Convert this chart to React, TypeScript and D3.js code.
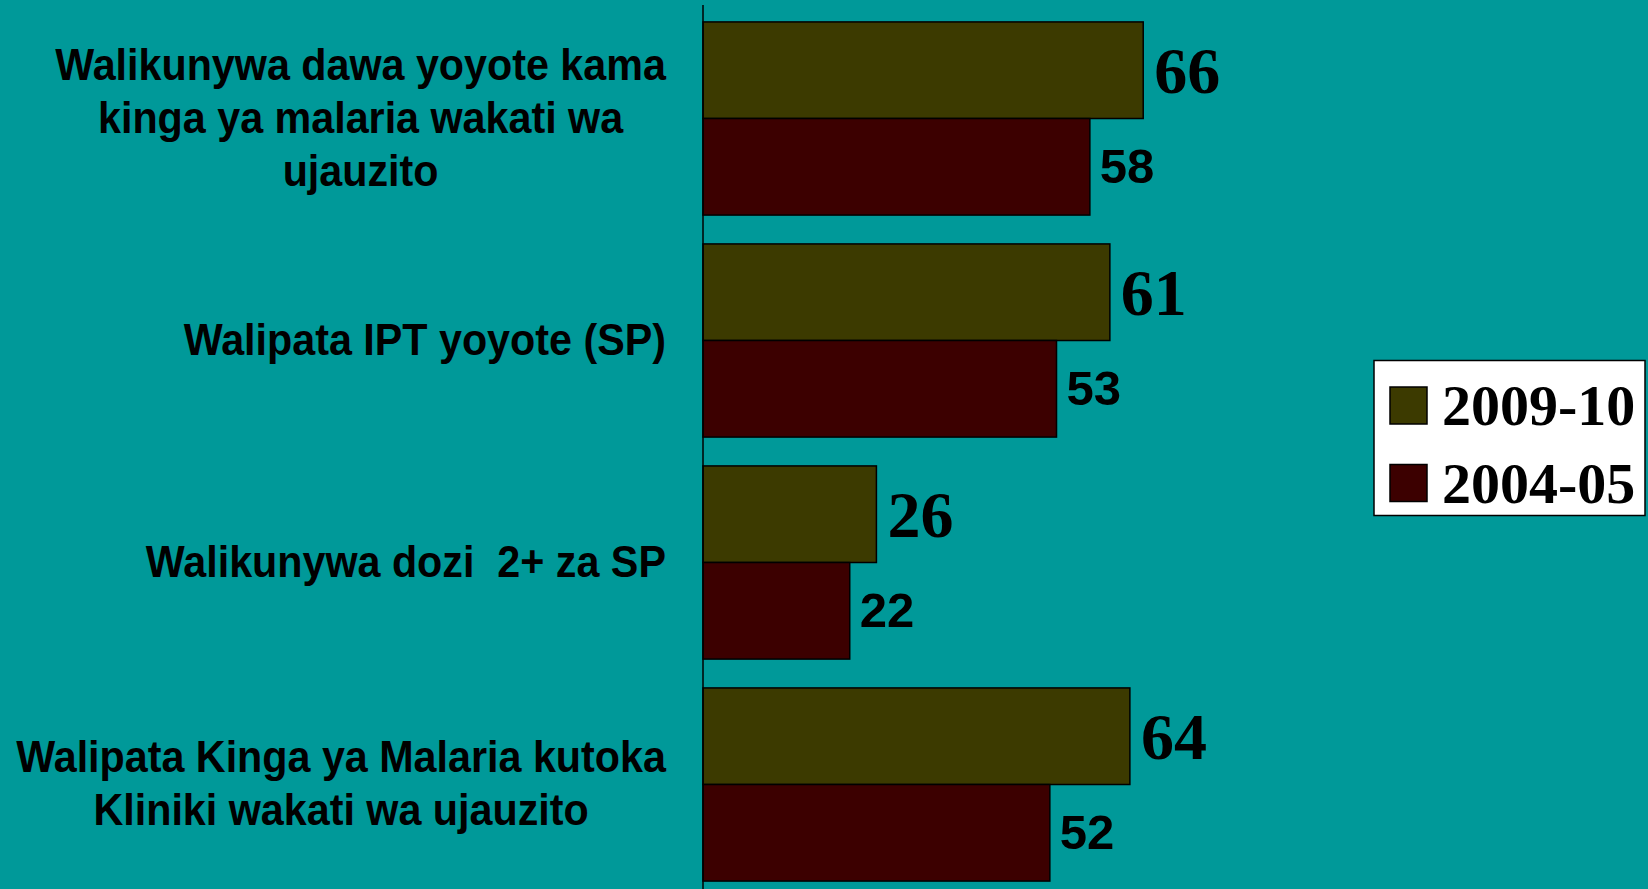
import React, { useEffect, useRef } from "react";
import * as d3 from "d3";

const categories: string[][] = [
  ["Walikunywa dawa yoyote kama", "kinga ya malaria wakati wa", "ujauzito"],
  ["Walipata IPT yoyote (SP)"],
  ["Walikunywa dozi  2+ za SP"],
  ["Walipata Kinga ya Malaria kutoka", "Kliniki wakati wa ujauzito"],
];
const seriesNames = ["2009-10", "2004-05"];
const values2009 = [66, 61, 26, 64];
const values2004 = [58, 53, 22, 52];
const seriesColors = ["#3c3a00", "#3c0000"];

const W = 1648;
const H = 889;

export default function App() {
  const ref = useRef<SVGSVGElement>(null);

  useEffect(() => {
    const svg = d3.select(ref.current);
    svg.selectAll("*").remove();

    svg.append("rect").attr("width", W).attr("height", H).attr("fill", "#009999");

    const keys = categories.map((_, i) => String(i));
    const y = d3.scaleBand().domain(keys).range([7.5, 895.5]).paddingInner(0.13).paddingOuter(0.065);
    const ys = d3.scaleBand().domain(seriesNames).range([0, y.bandwidth()]);
    const x = d3.scaleLinear().domain([0, 100]).range([703, 1370]);

    const data = keys.map((k, i) => ({ k, vals: [values2009[i], values2004[i]] }));

    const g = svg.append("g");
    data.forEach((d) => {
      d.vals.forEach((v, si) => {
        const y0 = (y(d.k) as number) + (ys(seriesNames[si]) as number);
        g.append("rect")
          .attr("x", x(0))
          .attr("y", y0)
          .attr("width", x(v) - x(0))
          .attr("height", ys.bandwidth())
          .attr("fill", seriesColors[si])
          .attr("stroke", "#000")
          .attr("stroke-width", 1.5);
        const mid = y0 + ys.bandwidth() / 2;
        if (si === 0) {
          g.append("text")
            .attr("x", x(v) + 11)
            .attr("y", mid + 23)
            .attr("font-family", "'Liberation Serif', 'Times New Roman', serif")
            .attr("font-weight", "bold")
            .attr("font-size", 66)
            .attr("fill", "#000")
            .text(String(v));
        } else {
          g.append("text")
            .attr("x", x(v) + 10)
            .attr("y", mid + 16)
            .attr("font-family", "'Liberation Sans', Arial, sans-serif")
            .attr("font-weight", "bold")
            .attr("font-size", 49)
            .attr("fill", "#000")
            .text(String(v));
        }
      });
    });

    // axis line
    svg.append("line")
      .attr("x1", x(0)).attr("x2", x(0))
      .attr("y1", 5).attr("y2", H)
      .attr("stroke", "#000").attr("stroke-width", 1.5);

    // category labels
    const rightEdge = 666;
    const lineH = 53;
    const capH = 29;
    const sx = 0.938;
    categories.forEach((lines, i) => {
      const center = (y(keys[i]) as number) + y.bandwidth() / 2;
      const lg = svg.append("g");
      const texts = lines.map((ln, li) =>
        lg.append("text")
          .attr("font-family", "'Liberation Sans', Arial, sans-serif")
          .attr("font-weight", "bold")
          .attr("font-size", 44)
          .attr("fill", "#000")
          .attr("text-anchor", "middle")
          .style("white-space", "pre")
          .attr("y", center + capH / 2 + (li - (lines.length - 1) / 2) * lineH)
          .text(ln)
      );
      let maxW = 0;
      texts.forEach((t) => {
        const n = t.node() as SVGTextElement;
        maxW = Math.max(maxW, n.getComputedTextLength());
      });
      const cx = rightEdge - (maxW * sx) / 2;
      lg.attr("transform", `translate(${cx},0) scale(${sx},1)`);
      texts.forEach((t) => t.attr("x", 0));
    });

    // legend
    const lgd = svg.append("g");
    lgd.append("rect")
      .attr("x", 1374).attr("y", 360.5).attr("width", 271).attr("height", 155)
      .attr("fill", "#fff").attr("stroke", "#000").attr("stroke-width", 1.5);
    seriesNames.forEach((s, i) => {
      const top = 387 + i * 77.5;
      lgd.append("rect")
        .attr("x", 1390).attr("y", top).attr("width", 37).attr("height", 37)
        .attr("fill", seriesColors[i]).attr("stroke", "#000").attr("stroke-width", 1.5);
      lgd.append("text")
        .attr("x", 1442).attr("y", top + 38)
        .attr("font-family", "'Liberation Serif', 'Times New Roman', serif")
        .attr("font-weight", "bold")
        .attr("font-size", 58)
        .attr("fill", "#000")
        .text(s);
    });
  }, []);

  return (
    <svg
      ref={ref}
      width={W}
      height={H}
      style={{ position: "absolute", left: 0, top: 0, display: "block" }}
    />
  );
}
